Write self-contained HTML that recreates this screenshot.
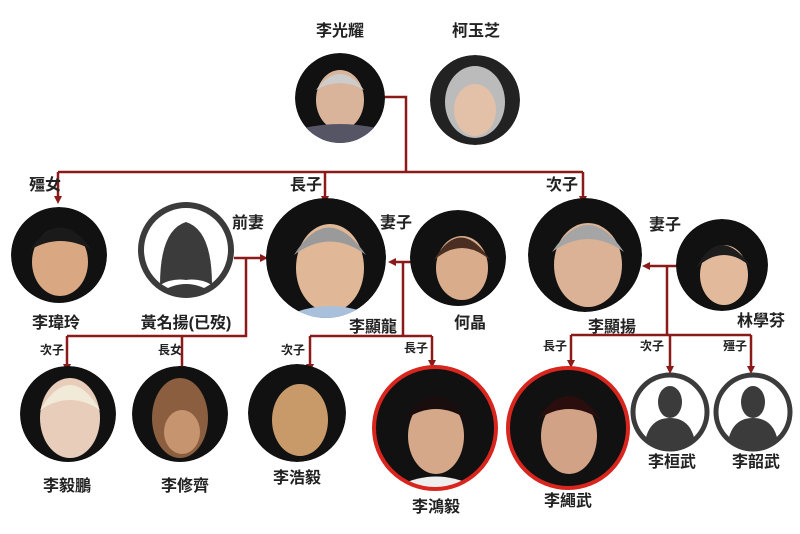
<!DOCTYPE html>
<html><head><meta charset="utf-8"><style>
html,body{margin:0;padding:0;background:#fff;}
svg{display:block;}
text{font-family:"Liberation Sans","Noto Sans CJK TC","Noto Sans CJK SC",sans-serif;font-weight:bold;fill:#222;text-anchor:middle;}
</style></head><body>
<svg width="800" height="534" viewBox="0 0 800 534" xmlns="http://www.w3.org/2000/svg">
<defs>
<marker id="a" markerWidth="8" markerHeight="8" refX="4" refY="4" orient="auto" markerUnits="userSpaceOnUse">
<path d="M0,0 L8,4 L0,8 z" fill="#8b1a1a"/></marker>
<clipPath id="c1"><circle cx="340" cy="98" r="45"/></clipPath>
<clipPath id="c2"><circle cx="475" cy="100" r="45"/></clipPath>
<clipPath id="c3"><circle cx="59" cy="255" r="48"/></clipPath>
<clipPath id="c4"><circle cx="186" cy="250" r="44"/></clipPath>
<clipPath id="c5"><circle cx="326" cy="258" r="60"/></clipPath>
<clipPath id="c6"><circle cx="458" cy="258" r="48"/></clipPath>
<clipPath id="c7"><circle cx="585" cy="255" r="57"/></clipPath>
<clipPath id="c8"><circle cx="722" cy="265" r="46"/></clipPath>
<clipPath id="c9"><circle cx="68" cy="414" r="48"/></clipPath>
<clipPath id="c10"><circle cx="180" cy="414" r="48"/></clipPath>
<clipPath id="c11"><circle cx="297" cy="413" r="49"/></clipPath>
<clipPath id="c12"><circle cx="435" cy="428" r="60"/></clipPath>
<clipPath id="c13"><circle cx="568" cy="428" r="59"/></clipPath>
<clipPath id="c14"><circle cx="670" cy="412" r="36"/></clipPath>
<clipPath id="c15"><circle cx="753" cy="412" r="36"/></clipPath>
</defs>
<g stroke="#8b1a1a" stroke-width="2.5" fill="none">
<path d="M384,97 H406 V172"/>
<path d="M58,172 H583"/>
<path d="M58,172 V200" marker-end="url(#a)"/>
<path d="M325,172 V200" marker-end="url(#a)"/>
<path d="M583,172 V200" marker-end="url(#a)"/>
<path d="M234,258 H264" marker-end="url(#a)"/>
<path d="M246,258 V336 H67"/>
<path d="M67,336 V368" marker-end="url(#a)"/>
<path d="M182,336 V370" marker-end="url(#a)"/>
<path d="M417,262 H392" marker-end="url(#a)"/>
<path d="M403,262 V336"/>
<path d="M310,336 H432"/>
<path d="M310,336 V368" marker-end="url(#a)"/>
<path d="M432,336 V364" marker-end="url(#a)"/>
<path d="M678,266 H646" marker-end="url(#a)"/>
<path d="M667,266 V335"/>
<path d="M571,335 H751"/>
<path d="M571,335 V364" marker-end="url(#a)"/>
<path d="M670,335 V370" marker-end="url(#a)"/>
<path d="M751,335 V370" marker-end="url(#a)"/>
</g>

<g clip-path="url(#c1)"><circle cx="340" cy="98" r="45" fill="#111"/>
<ellipse cx="340" cy="100" rx="24" ry="30" fill="#d9b49a"/>
<path d="M316,90 Q340,58 364,90 Q340,76 316,90z" fill="#ccc"/>
<path d="M296,130 Q340,118 384,130 L384,150 L296,150z" fill="#556"/></g>
<g clip-path="url(#c2)"><circle cx="475" cy="100" r="45" fill="#222"/>
<ellipse cx="475" cy="102" rx="30" ry="36" fill="#bbb"/>
<ellipse cx="475" cy="110" rx="21" ry="26" fill="#e2c1a8"/></g>
<g clip-path="url(#c3)"><circle cx="59" cy="255" r="48" fill="#111"/>
<ellipse cx="60" cy="262" rx="28" ry="34" fill="#d9a883"/>
<path d="M30,250 Q60,205 92,250 Q60,232 30,250z" fill="#1a1a1a"/></g>
<g><circle cx="186" cy="250" r="44" fill="#fff"/>
<g clip-path="url(#c4)">
<path d="M160,285 Q160,230 186,222 Q212,230 212,285 Q200,278 186,280 Q172,278 160,285z" fill="#3b3b3b"/>
<path d="M150,300 Q186,268 222,300 L222,310 L150,310z" fill="#3b3b3b"/></g>
<circle cx="186" cy="250" r="45" fill="none" stroke="#3b3b3b" stroke-width="6"/></g>
<g clip-path="url(#c5)"><circle cx="326" cy="258" r="60" fill="#111"/>
<ellipse cx="330" cy="268" rx="34" ry="44" fill="#e0b897"/>
<path d="M294,255 Q328,200 366,255 Q330,228 294,255z" fill="#9a9a9a"/>
<path d="M296,312 Q330,300 364,312 L364,330 L296,330z" fill="#a9c0dc"/></g>
<g clip-path="url(#c6)"><circle cx="458" cy="258" r="48" fill="#111"/>
<ellipse cx="462" cy="268" rx="26" ry="32" fill="#d9ad8c"/>
<path d="M434,260 Q460,215 490,260 Q462,236 434,260z" fill="#4a2e22"/></g>
<g clip-path="url(#c7)"><circle cx="585" cy="255" r="57" fill="#111"/>
<ellipse cx="588" cy="265" rx="34" ry="42" fill="#dbb296"/>
<path d="M552,252 Q588,198 624,252 Q588,226 552,252z" fill="#a5a5a5"/></g>
<g clip-path="url(#c8)"><circle cx="722" cy="265" r="46" fill="#111"/>
<ellipse cx="724" cy="275" rx="24" ry="30" fill="#e3b99c"/>
<path d="M696,268 Q720,222 752,268 Q724,242 696,268z" fill="#1d1d1d"/></g>
<g clip-path="url(#c9)"><circle cx="68" cy="414" r="48" fill="#111"/>
<ellipse cx="70" cy="418" rx="30" ry="40" fill="#e8cdbb"/>
<path d="M40,410 Q70,360 100,410 Q70,390 40,410z" fill="#f2ead8"/></g>
<g clip-path="url(#c10)"><circle cx="180" cy="414" r="48" fill="#111"/>
<ellipse cx="180" cy="418" rx="28" ry="40" fill="#8a5e3e"/>
<ellipse cx="182" cy="432" rx="18" ry="22" fill="#c79470"/></g>
<g clip-path="url(#c11)"><circle cx="297" cy="413" r="49" fill="#111"/>
<ellipse cx="300" cy="420" rx="28" ry="36" fill="#c89a6a"/></g>
<g><g clip-path="url(#c12)"><circle cx="435" cy="428" r="61" fill="#111"/>
<ellipse cx="436" cy="436" rx="28" ry="38" fill="#d6a88a"/>
<path d="M404,420 Q436,372 468,420 Q436,398 404,420z" fill="#1a0d0d"/>
<path d="M400,485 Q436,468 472,485 L472,495 L400,495z" fill="#eee"/></g>
<circle cx="435" cy="428" r="61" fill="none" stroke="#d8261e" stroke-width="4"/></g>
<g><g clip-path="url(#c13)"><circle cx="568" cy="428" r="60" fill="#111"/>
<ellipse cx="569" cy="436" rx="28" ry="38" fill="#d2a286"/>
<path d="M537,420 Q569,372 601,420 Q569,398 537,420z" fill="#2a0d0d"/></g>
<circle cx="568" cy="428" r="60" fill="none" stroke="#d8261e" stroke-width="4"/></g>
<g><circle cx="670" cy="412" r="36" fill="#fff"/>
<g clip-path="url(#c14)"><ellipse cx="670" cy="402" rx="12" ry="16" fill="#3b3b3b"/>
<path d="M644,450 Q646,418 670,418 Q694,418 696,450z" fill="#3b3b3b"/></g>
<circle cx="670" cy="412" r="37" fill="none" stroke="#3b3b3b" stroke-width="5"/></g>
<g><circle cx="753" cy="412" r="36" fill="#fff"/>
<g clip-path="url(#c15)"><ellipse cx="753" cy="402" rx="12" ry="16" fill="#3b3b3b"/>
<path d="M727,450 Q729,418 753,418 Q777,418 779,450z" fill="#3b3b3b"/></g>
<circle cx="753" cy="412" r="37" fill="none" stroke="#3b3b3b" stroke-width="5"/></g>

<g font-size="16">
<text x="340" y="36">李光耀</text>
<text x="476" y="36">柯玉芝</text>
<text x="45" y="190">殭女</text>
<text x="306" y="190">長子</text>
<text x="562" y="190">次子</text>
<text x="248" y="228">前妻</text>
<text x="396" y="228">妻子</text>
<text x="665" y="230">妻子</text>
<text x="56" y="328">李瑋玲</text>
<text x="186" y="328">黃名揚(已歿)</text>
<text x="373" y="332">李顯龍</text>
<text x="470" y="328">何晶</text>
<text x="612" y="332">李顯揚</text>
<text x="761" y="326">林學芬</text>
<text x="67" y="491">李毅鵬</text>
<text x="185" y="491">李修齊</text>
<text x="297" y="483">李浩毅</text>
<text x="436" y="512">李鴻毅</text>
<text x="568" y="506">李繩武</text>
<text x="672" y="467">李桓武</text>
<text x="756" y="467">李韶武</text>
</g>
<g font-size="12">
<text x="52" y="354">次子</text>
<text x="170" y="354">長女</text>
<text x="293" y="354">次子</text>
<text x="416" y="352">長子</text>
<text x="555" y="350">長子</text>
<text x="652" y="350">次子</text>
<text x="735" y="350">殭子</text>
</g>
</svg>
</body></html>
